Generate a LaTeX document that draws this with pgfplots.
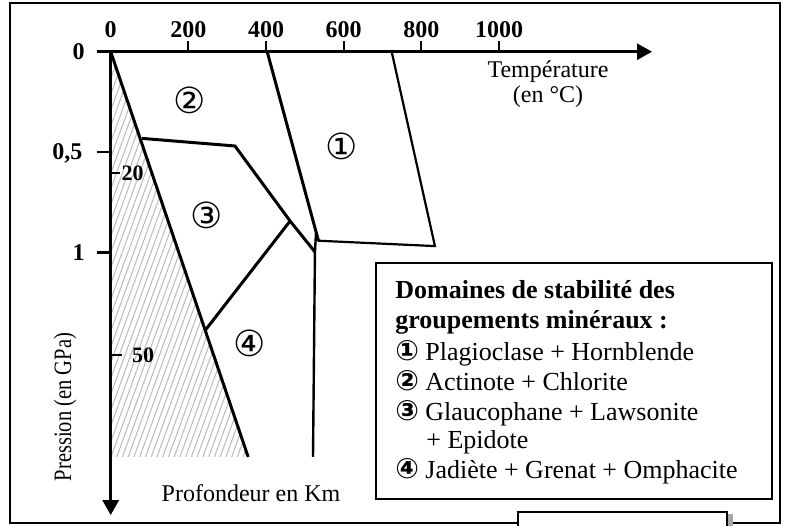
\documentclass[border=0pt]{standalone}
\usepackage{fontspec}
\setmainfont{Liberation Serif}
\newfontfamily\dejavu{DejaVu Sans}
\usepackage{pgfplots}
\pgfplotsset{compat=1.18}
\usetikzlibrary{patterns.meta,arrows.meta}

\begin{document}
\begin{tikzpicture}[x=0.5pt,y=-0.5pt]
\useasboundingbox (0,0) rectangle (786,525);
% outer frame (interrupted by the small box at the bottom)
\draw[line width=1pt] (518,523) -- (10,523) -- (10,3) -- (780,3) -- (780,523) -- (733,523);
\fill[gray!70] (727,514) rectangle (733,526);
\draw[line width=1pt] (518,526) -- (518,511.5) -- (727,511.5) -- (727,526);

\begin{axis}[
  at={(55.35pt,-25.85pt)}, anchor=north west,
  hide axis, clip=false,
  x=0.19415pt, y=100.3pt, y dir=reverse,
  xmin=0, xmax=1000, ymin=0, ymax=2.02,
  enlargelimits=false,
]
% hatched zone (below the geotherm)
\addplot[draw=none, pattern={Lines[angle=70,distance=2.7pt,line width=0.5pt]}, pattern color=gray!55]
  coordinates {(0,0) (354,2.02) (0,2.02) (0,0)};
% geotherm
\addplot[line width=1.5pt] coordinates {(0,0) (354,2.02)};
% boundary 2 / 3
\addplot[line width=1.5pt, line join=round] coordinates {(80,0.432) (320,0.470) (462,0.844) (526,0.998)};
% boundary 3 / 4
\addplot[line width=1.5pt] coordinates {(243,1.39) (462,0.844)};
% vertical boundary
\addplot[line width=1.2pt, line join=round] coordinates {(528.7,0.904) (526,0.998) (521,2.02)};
% domain 1
\addplot[line width=1.5pt] coordinates {(403,0) (535,0.942)};
\addplot[line width=1.1pt, line join=miter] coordinates {(533,0.942) (835,0.969) (723.6,0)};

% axes
\draw[line width=1.5pt, -{Triangle[length=7.5pt,width=8pt]}] (axis cs:-36,0) -- (axis cs:1394,0);
\draw[line width=1.5pt, -{Triangle[length=7.5pt,width=8pt]}] (axis cs:0,0) -- (axis cs:0,2.31);
% temperature ticks
\draw[line width=1pt] (axis cs:200,0) -- (axis cs:200,-0.052);
\draw[line width=1pt] (axis cs:400,0) -- (axis cs:400,-0.052);
\draw[line width=1pt] (axis cs:600,0) -- (axis cs:600,-0.052);
\draw[line width=1pt] (axis cs:800,0) -- (axis cs:800,-0.052);
\draw[line width=1pt] (axis cs:1000,0) -- (axis cs:1000,-0.052);
% pressure ticks
\draw[line width=1.2pt] (axis cs:-36,0.5) -- (axis cs:0,0.5);
\draw[line width=1.2pt] (axis cs:-36,1) -- (axis cs:0,1);
% depth ticks
\draw[line width=1.1pt] (axis cs:0,0.605) -- (axis cs:25,0.605);
\draw[line width=1.1pt] (axis cs:0,1.512) -- (axis cs:28,1.512);

% tick labels
\begin{scope}[font=\fontsize{12}{14}\selectfont\bfseries]
\node at (axis cs:0,-0.111) {0};
\node at (axis cs:200,-0.111) {200};
\node at (axis cs:400,-0.111) {400};
\node at (axis cs:600,-0.111) {600};
\node at (axis cs:800,-0.111) {800};
\node at (axis cs:1000,-0.111) {1000};
\node[anchor=east, inner sep=0pt] at (axis cs:-66,0) {0};
\node[anchor=east, inner sep=0pt] at (axis cs:-72,0.505) {0,5};
\node[anchor=east, inner sep=0pt] at (axis cs:-66,1) {1};
\end{scope}
\begin{scope}[font=\fontsize{11}{12}\selectfont\bfseries]
\node[anchor=west, inner sep=0pt] at (axis cs:27,0.605) {20};
\node[anchor=west, inner sep=0pt] at (axis cs:54,1.512) {50};
\end{scope}

% domain numbers
\begin{scope}[font=\dejavu\fontsize{18}{20}\selectfont]
\node at (axis cs:595,0.473) {①};
\node at (axis cs:204,0.241) {②};
\node at (axis cs:248,0.814) {③};
\node at (axis cs:359,1.452) {④};
\end{scope}
\end{axis}

% axis titles
\begin{scope}[font=\fontsize{12}{14}\selectfont]
\node at (548,71.7) {Température};
\node at (548,96.7) {(en °C)};
\node at (251,493) {Profondeur en Km};
\node[rotate=90] at (65,407) {\scalebox{0.82}[1]{\fontsize{12.5}{14}\selectfont Pression (en GPa)}};
\end{scope}

% legend box
\draw[line width=1pt] (376,263) rectangle (772,499);
\begin{scope}[font=\fontsize{13}{15}\selectfont, inner sep=0pt]
\node[anchor=base west, font=\fontsize{13}{15}\selectfont\bfseries] at (395,298) {Domaines de stabilité des};
\node[anchor=base west, font=\fontsize{13}{15}\selectfont\bfseries] at (395,328) {groupements minéraux :};
\node[anchor=base west] at (395,360) {\makebox[15pt][l]{\dejavu\bfseries\fontsize{14}{15}\selectfont ①}Plagioclase + Hornblende};
\node[anchor=base west] at (395,390) {\makebox[15pt][l]{\dejavu\bfseries\fontsize{14}{15}\selectfont ②}Actinote + Chlorite};
\node[anchor=base west] at (395,420) {\makebox[15pt][l]{\dejavu\bfseries\fontsize{14}{15}\selectfont ③}Glaucophane + Lawsonite};
\node[anchor=base west] at (426,448) {+ Epidote};
\node[anchor=base west] at (395,478) {\makebox[15pt][l]{\dejavu\bfseries\fontsize{14}{15}\selectfont ④}Jadiète + Grenat + Omphacite};
\end{scope}
\end{tikzpicture}
\end{document}
